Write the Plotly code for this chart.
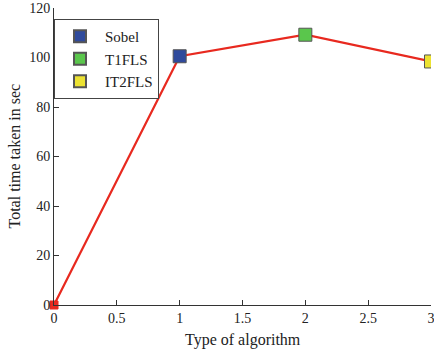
import plotly.graph_objects as go

x_vals = [0, 1, 2, 3]
y_vals = [0, 100.5, 109.2, 98.4]
names = ["Sobel", "T1FLS", "IT2FLS"]
colors = ["#2f4a9c", "#5ac64c", "#ece232"]
x_ticks = [0, 0.5, 1, 1.5, 2, 2.5, 3]
x_ticktext = ["0", "0.5", "1", "1.5", "2", "2.5", "3"]
y_ticks = [0, 20, 40, 60, 80, 100, 120]

fig = go.Figure()
fig.add_trace(go.Scatter(x=x_vals, y=y_vals, mode="lines", line=dict(color="#e8291f", width=2.2),
                         showlegend=False, hoverinfo="skip"))
fig.add_trace(go.Scatter(x=x_vals[:1], y=y_vals[:1], mode="markers",
                         marker=dict(symbol="square", size=8, color="#e8291f", line=dict(color="#e8291f", width=1)),
                         showlegend=False, cliponaxis=False))
for i, (n, c) in enumerate(zip(names, colors)):
    fig.add_trace(go.Scatter(x=[x_vals[i + 1]], y=[y_vals[i + 1]], mode="markers", name=n,
                             marker=dict(symbol="square", size=13, color=c, line=dict(color="#555555", width=1))))

family = "Liberation Serif, Times New Roman, serif"
font = dict(family=family, size=15, color="#222222")
titlefont = dict(family=family, size=16, color="#222222")
tickfont = dict(family=family, size=14, color="#222222")
fig.update_layout(
    width=434, height=349,
    margin=dict(l=54, r=3, t=8, b=44),
    paper_bgcolor="white", plot_bgcolor="white",
    font=font,
    showlegend=True,
    legend=dict(x=0.0, y=0.963, xanchor="left", yanchor="top", bgcolor="white",
                bordercolor="#444444", borderwidth=1, font=font, tracegroupgap=0,
                itemsizing="constant", itemwidth=40),
    annotations=[
        dict(text="Type of algorithm", xref="paper", yref="paper", x=0.5, y=0,
             yshift=-24, xanchor="center", yanchor="top", showarrow=False, font=titlefont),
        dict(text="Total time taken in sec", xref="paper", yref="paper", x=0, y=0.5,
             xshift=-40, xanchor="center", yanchor="middle", textangle=-90, showarrow=False, font=titlefont),
    ],
)
fig.update_xaxes(range=[0, 3], tickvals=x_ticks, ticktext=x_ticktext, automargin=False,
                 ticklabeloverflow="allow",
                 showgrid=False, zeroline=False, showline=True, linecolor="#333333", linewidth=1,
                 ticks="inside", ticklen=5, tickcolor="#333333", tickfont=tickfont)
fig.update_yaxes(range=[0, 120], tickvals=y_ticks, automargin=False,
                 showgrid=False, zeroline=False, showline=True, linecolor="#333333", linewidth=1,
                 ticks="inside", ticklen=5, tickcolor="#333333", tickfont=tickfont)
fig.write_html("out.html", config={"displayModeBar": False},
               post_script="document.body.style.margin='0';")
